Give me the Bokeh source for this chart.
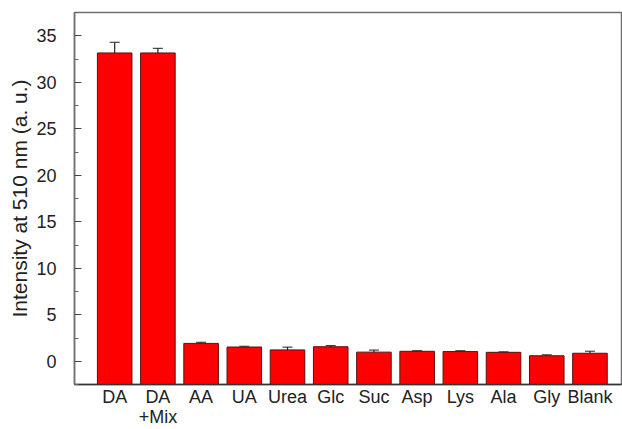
from bokeh.plotting import figure
from bokeh.models import ColumnDataSource, Whisker, FixedTicker, Range1d
from bokeh.embed import file_html
from bokeh.resources import INLINE

categories = ["DA", "DA\n+Mix", "AA", "UA", "Urea", "Glc", "Suc", "Asp", "Lys", "Ala", "Gly", "Blank"]
values = [33.15, 33.15, 1.92, 1.53, 1.22, 1.56, 0.98, 1.07, 1.04, 0.96, 0.59, 0.86]
errors = [1.15, 0.5, 0.12, 0.08, 0.3, 0.12, 0.22, 0.06, 0.09, 0.05, 0.1, 0.22]
y_ticks = [0, 5, 10, 15, 20, 25, 30, 35]
y_min, y_max = -2.5, 37.5

xs = list(range(len(categories)))
src = ColumnDataSource(dict(
    x=xs, top=values,
    upper=[v + e for v, e in zip(values, errors)],
    lower=[v - e for v, e in zip(values, errors)],
))

FONT = "Liberation Sans"
p = figure(width=622, height=429, output_backend="svg", toolbar_location=None,
           x_range=Range1d(-0.93, 11.73), y_range=Range1d(y_min, y_max),
           min_border_left=74, min_border_top=12, min_border_bottom=45, min_border_right=1)
p.grid.visible = False
p.outline_line_color = "#707070"
p.outline_line_width = 1.5
p.background_fill_color = "white"
p.border_fill_color = "white"

p.vbar(x="x", top="top", bottom=y_min, width=0.8, source=src,
       fill_color="#FF0000", line_color="#5a1010", line_width=1)
w = Whisker(base="x", upper="upper", lower="lower", source=src,
            line_color="#222222", line_width=1.2)
w.upper_head.line_color = "#222222"
w.lower_head.line_color = "#222222"
w.upper_head.size = 10
w.lower_head.size = 10
p.add_layout(w)

xa = p.xaxis[0]
xa.ticker = FixedTicker(ticks=xs)
xa.major_label_overrides = {i: c for i, c in enumerate(categories)}
xa.major_tick_in = 0
xa.major_tick_out = 0
xa.minor_tick_line_color = None
xa.axis_line_color = "#333333"
xa.axis_line_width = 1.5
xa.major_label_text_font = FONT
xa.major_label_text_font_size = "18px"
xa.major_label_text_line_height = 1.0
xa.major_label_text_color = "#222222"
xa.major_label_standoff = 2

ya = p.yaxis[0]
ya.ticker = FixedTicker(ticks=y_ticks, minor_ticks=[t + 2.5 for t in y_ticks] + [-2.5])
ya.major_tick_in = 7
ya.major_tick_out = 0
ya.minor_tick_in = 4
ya.minor_tick_out = 0
ya.major_tick_line_color = "#444444"
ya.minor_tick_line_color = "#666666"
ya.axis_line_color = "#707070"
ya.axis_line_width = 1.5
ya.major_label_text_font = FONT
ya.major_label_text_font_size = "18px"
ya.major_label_text_color = "#222222"
ya.major_label_standoff = 18
ya.axis_label = "Intensity at 510 nm (a. u.)"
ya.axis_label_text_font = FONT
ya.axis_label_text_font_size = "21px"
ya.axis_label_text_font_style = "normal"
ya.axis_label_text_color = "#222222"
ya.axis_label_standoff = 2

open("out.html", "w").write(file_html(p, INLINE))
